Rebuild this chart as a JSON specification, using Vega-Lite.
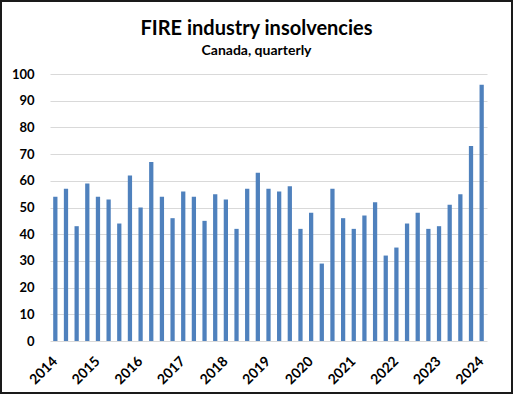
{
  "$schema": "https://vega.github.io/schema/vega-lite/v6.json",
  "width": 511,
  "height": 392,
  "autosize": {"type": "none"},
  "padding": {"left": 1, "top": 1, "right": 4, "bottom": 3},
  "background": "white",
  "title": {
    "text": "FIRE industry insolvencies",
    "subtitle": "Canada, quarterly",
    "anchor": "middle",
    "frame": "group",
    "offset": -57,
    "font": "Lato",
    "fontSize": 20,
    "fontWeight": "bold",
    "color": "#000000",
    "subtitleFont": "Lato",
    "subtitleFontSize": 14,
    "subtitleFontWeight": "bold",
    "subtitleColor": "#000000",
    "subtitlePadding": 5
  },
  "config": {
    "view": {"stroke": "#1a1a1a", "strokeWidth": 2},
    "axis": {
      "labelFont": "Lato",
      "labelFontSize": 13,
      "labelFontWeight": "bold",
      "labelColor": "#000000"
    }
  },
  "data": {
    "values": [
      {"q": "2014Q1", "v": 54}, {"q": "2014Q2", "v": 57}, {"q": "2014Q3", "v": 43}, {"q": "2014Q4", "v": 59},
      {"q": "2015Q1", "v": 54}, {"q": "2015Q2", "v": 53}, {"q": "2015Q3", "v": 44}, {"q": "2015Q4", "v": 62},
      {"q": "2016Q1", "v": 50}, {"q": "2016Q2", "v": 67}, {"q": "2016Q3", "v": 54}, {"q": "2016Q4", "v": 46},
      {"q": "2017Q1", "v": 56}, {"q": "2017Q2", "v": 54}, {"q": "2017Q3", "v": 45}, {"q": "2017Q4", "v": 55},
      {"q": "2018Q1", "v": 53}, {"q": "2018Q2", "v": 42}, {"q": "2018Q3", "v": 57}, {"q": "2018Q4", "v": 63},
      {"q": "2019Q1", "v": 57}, {"q": "2019Q2", "v": 56}, {"q": "2019Q3", "v": 58}, {"q": "2019Q4", "v": 42},
      {"q": "2020Q1", "v": 48}, {"q": "2020Q2", "v": 29}, {"q": "2020Q3", "v": 57}, {"q": "2020Q4", "v": 46},
      {"q": "2021Q1", "v": 42}, {"q": "2021Q2", "v": 47}, {"q": "2021Q3", "v": 52}, {"q": "2021Q4", "v": 32},
      {"q": "2022Q1", "v": 35}, {"q": "2022Q2", "v": 44}, {"q": "2022Q3", "v": 48}, {"q": "2022Q4", "v": 42},
      {"q": "2023Q1", "v": 43}, {"q": "2023Q2", "v": 51}, {"q": "2023Q3", "v": 55}, {"q": "2023Q4", "v": 73},
      {"q": "2024Q1", "v": 96}
    ]
  },
  "mark": {"type": "bar", "color": "#4f81bd"},
  "encoding": {
    "x": {
      "field": "q",
      "type": "ordinal",
      "sort": null,
      "scale": {"type": "band", "range": [49, 486], "paddingInner": 0.6, "paddingOuter": 0.3},
      "axis": {
        "title": null,
        "values": ["2014Q1", "2015Q1", "2016Q1", "2017Q1", "2018Q1", "2019Q1", "2020Q1", "2021Q1", "2022Q1", "2023Q1", "2024Q1"],
        "labelExpr": "slice(datum.value, 0, 4)",
        "labelAngle": -45,
        "labelAlign": "right",
        "labelBaseline": "middle",
        "labelFontSize": 14,
        "offset": -34,
        "labelPadding": 0,
        "ticks": false,
        "domain": false,
        "grid": false
      }
    },
    "y": {
      "field": "v",
      "type": "quantitative",
      "scale": {"domain": [0, 100], "range": [340, 73], "nice": false},
      "axis": {
        "title": null,
        "values": [0, 10, 20, 30, 40, 50, 60, 70, 80, 90, 100],
        "offset": -33,
        "labelPadding": 0,
        "ticks": false,
        "domain": false,
        "grid": true,
        "gridColor": "#d9d9d9",
        "gridWidth": 1
      }
    }
  }
}
